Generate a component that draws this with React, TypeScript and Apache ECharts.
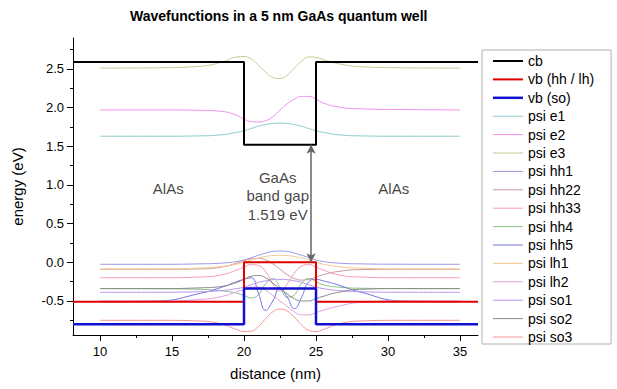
import { useEffect, useRef } from 'react';
import * as echarts from 'echarts';

// distance samples (nm) for wavefunctions
const xs = [10, 14, 17, 18.5, 19.5, 20, 20.5, 21, 21.5, 22, 22.5, 23, 23.5, 24, 24.5, 25, 25.5, 26.5, 28, 31, 35];

const psiE1 = [1.63, 1.63, 1.635, 1.65, 1.68, 1.70, 1.73, 1.76, 1.78, 1.795, 1.80, 1.795, 1.78, 1.76, 1.73, 1.70, 1.68, 1.65, 1.635, 1.63, 1.63];
const psiE2 = [1.97, 1.97, 1.965, 1.95, 1.90, 1.85, 1.82, 1.815, 1.83, 1.88, 1.97, 2.05, 2.11, 2.145, 2.145, 2.11, 2.06, 2.01, 1.985, 1.975, 1.97];
const psiE3 = [2.51, 2.515, 2.535, 2.59, 2.655, 2.66, 2.63, 2.55, 2.46, 2.39, 2.375, 2.42, 2.51, 2.60, 2.655, 2.65, 2.62, 2.57, 2.53, 2.515, 2.51];
const psiHh1 = [-0.026, -0.026, -0.02, -0.01, 0.01, 0.03, 0.06, 0.09, 0.12, 0.14, 0.146, 0.14, 0.12, 0.09, 0.06, 0.03, 0.01, -0.01, -0.02, -0.025, -0.026];
const psiHh22 = [-0.09, -0.09, -0.085, -0.06, -0.01, 0.02, 0.045, 0.05, 0.03, -0.02, -0.09, -0.16, -0.21, -0.23, -0.22, -0.19, -0.16, -0.12, -0.095, -0.09, -0.09];
const psiHh33 = [-0.2, -0.2, -0.19, -0.16, -0.1, -0.06, -0.03, -0.04, -0.12, -0.28, -0.37, -0.28, -0.14, -0.05, -0.03, -0.06, -0.1, -0.16, -0.19, -0.2, -0.2];
const psiHh4 = [-0.34, -0.342, -0.35, -0.37, -0.40, -0.43, -0.46, -0.42, -0.28, -0.21, -0.32, -0.45, -0.42, -0.27, -0.21, -0.25, -0.29, -0.32, -0.335, -0.34, -0.34];
const psiHh5 = [-0.51, -0.50, -0.40, -0.32, -0.25, -0.22, -0.2, -0.4, -0.62, -0.5, -0.33, -0.45, -0.6, -0.45, -0.25, -0.22, -0.24, -0.29, -0.38, -0.5, -0.51];
const psiLh1 = [-0.087, -0.086, -0.075, -0.055, -0.025, 0.0, 0.03, 0.055, 0.075, 0.087, 0.09, 0.087, 0.075, 0.055, 0.03, 0.0, -0.025, -0.055, -0.075, -0.086, -0.087];
const psiLh2 = [-0.5, -0.5, -0.48, -0.44, -0.38, -0.35, -0.32, -0.32, -0.36, -0.43, -0.5, -0.57, -0.64, -0.68, -0.68, -0.65, -0.62, -0.57, -0.52, -0.5, -0.5];
const psiSo1 = [-0.388, -0.387, -0.38, -0.365, -0.34, -0.32, -0.29, -0.26, -0.24, -0.225, -0.22, -0.225, -0.24, -0.26, -0.29, -0.32, -0.34, -0.365, -0.38, -0.387, -0.388];
const psiSo2 = [-0.34, -0.34, -0.33, -0.31, -0.26, -0.22, -0.18, -0.17, -0.2, -0.27, -0.34, -0.41, -0.47, -0.5, -0.5, -0.47, -0.44, -0.39, -0.35, -0.34, -0.34];
const psiSo3 = [-0.75, -0.75, -0.76, -0.8, -0.87, -0.895, -0.89, -0.83, -0.73, -0.64, -0.605, -0.63, -0.71, -0.81, -0.88, -0.895, -0.87, -0.8, -0.76, -0.75, -0.75];

// band edges
const bandX = [8.125, 20, 20, 25, 25, 36.25];
const cbE = [2.59, 2.59, 1.519, 1.519, 2.59, 2.59];
const vbHhE = [-0.51, -0.51, 0, 0, -0.51, -0.51];
const vbSoE = [-0.8, -0.8, -0.34, -0.34, -0.8, -0.8];

// ticks
const xMajorTicks = [10, 15, 20, 25, 30, 35];
const xMinorTicks = [12.5, 17.5, 22.5, 27.5, 32.5];
const yMajorTicks = [-0.5, 0, 0.5, 1, 1.5, 2, 2.5];
const yMinorTicks = [-0.75, -0.25, 0.25, 0.75, 1.25, 1.75, 2.25, 2.75];

// annotations
const gapArrowX = 24.66;
const gapBottom = 0;
const gapTop = 1.519;
const annotations: [number, number, string][] = [
  [14.74, 0.956, 'AlAs'],
  [30.4, 0.956, 'AlAs'],
  [22.34, 0.86, 'GaAs\nband gap\n1.519 eV'],
];

const bandSeries = [
  { name: 'cb', y: cbE, color: '#000000', width: 2 },
  { name: 'vb (hh / lh)', y: vbHhE, color: '#e00000', width: 2 },
  { name: 'vb (so)', y: vbSoE, color: '#1010d0', width: 2.5 },
];

const psiSeries = [
  { name: 'psi e1', y: psiE1, color: '#8ccaca' },
  { name: 'psi e2', y: psiE2, color: '#f08ef0' },
  { name: 'psi e3', y: psiE3, color: '#c8c896' },
  { name: 'psi hh1', y: psiHh1, color: '#9898e0' },
  { name: 'psi hh22', y: psiHh22, color: '#c8989e' },
  { name: 'psi hh33', y: psiHh33, color: '#f598c6' },
  { name: 'psi hh4', y: psiHh4, color: '#88c088' },
  { name: 'psi hh5', y: psiHh5, color: '#7474e0' },
  { name: 'psi lh1', y: psiLh1, color: '#f5c88a' },
  { name: 'psi lh2', y: psiLh2, color: '#e0a0e0' },
  { name: 'psi so1', y: psiSo1, color: '#b894f0' },
  { name: 'psi so2', y: psiSo2, color: '#8a8a8a' },
  { name: 'psi so3', y: psiSo3, color: '#f59494' },
];

const FONT = '"Liberation Sans", Arial, sans-serif';

export default function App() {
  const ref = useRef<HTMLDivElement>(null);
  useEffect(() => {
    document.body.style.margin = '0';
    if (!ref.current) return;
    const chart = echarts.init(ref.current, undefined, { renderer: 'svg' });
    const axisColor = '#000';
    const series: any[] = [];
    psiSeries.forEach((s) => {
      series.push({
        name: s.name,
        type: 'line',
        data: xs.map((x, i) => [x, s.y[i]]),
        smooth: 0.5,
        symbol: 'none',
        z: 2,
        lineStyle: { color: s.color, width: 1 },
        itemStyle: { color: s.color, opacity: 0 },
      });
    });
    bandSeries.forEach((s) => {
      series.push({
        name: s.name,
        type: 'line',
        data: bandX.map((x, i) => [x, s.y[i]]),
        symbol: 'none',
        z: 4,
        lineStyle: { color: s.color, width: s.width },
        itemStyle: { color: s.color, opacity: 0 },
      });
    });
    series.push({
      name: 'gap',
      type: 'line',
      data: [],
      z: 5,
      markLine: {
        silent: true,
        symbol: ['arrow', 'arrow'],
        symbolSize: [7, 9],
        label: { show: false },
        lineStyle: { color: '#666', width: 1.5, type: 'solid' },
        data: [[{ coord: [gapArrowX, gapBottom] }, { coord: [gapArrowX, gapTop] }]],
      },
    });
    series.push({
      name: 'labels',
      type: 'scatter',
      data: annotations,
      symbolSize: 0,
      z: 6,
      label: {
        show: true,
        position: 'inside',
        formatter: (p: any) => p.data[2],
        fontSize: 15,
        lineHeight: 18.3,
        color: '#111',
        fontFamily: FONT,
        align: 'center',
      },
    });

    chart.setOption({
      animation: false,
      backgroundColor: '#fff',
      textStyle: { fontFamily: FONT },
      title: {
        text: 'Wavefunctions in a 5 nm GaAs quantum well',
        left: 130,
        top: 9,
        padding: 0,
        textStyle: { fontSize: 14, fontWeight: 'bold', color: '#000', fontFamily: FONT },
      },
      legend: {
        data: [
          ...bandSeries.map((s) => ({ name: s.name, lineStyle: { width: s.width } })),
          ...psiSeries.map((s) => ({ name: s.name, lineStyle: { width: 1 } })),
        ],
        orient: 'vertical',
        left: 482,
        top: 50,
        itemWidth: 30,
        itemHeight: 14,
        itemGap: 4.4,
        padding: [4, 17, 0, 9.7],
        borderColor: '#b0b0b0',
        borderWidth: 1,
        itemStyle: { opacity: 0 },
        textStyle: { fontSize: 14, color: '#000', fontFamily: FONT },
      },
      grid: { left: 73, top: 38, width: 405, height: 297 },
      xAxis: [
        {
          type: 'value',
          min: 8.125,
          max: 36.25,
          position: 'bottom',
          axisLine: { show: true, onZero: false, lineStyle: { color: axisColor, width: 1 } },
          axisTick: { show: true, length: 6, customValues: xMajorTicks, lineStyle: { color: axisColor } },
          axisLabel: { customValues: xMajorTicks, fontSize: 13, color: '#000', margin: 10, fontFamily: FONT },
          splitLine: { show: false },
          name: 'distance (nm)',
          nameLocation: 'middle',
          nameGap: 31,
          nameTextStyle: { fontSize: 15, color: '#000', fontFamily: FONT },
        },
        {
          type: 'value',
          min: 8.125,
          max: 36.25,
          position: 'bottom',
          axisLine: { show: false, onZero: false },
          axisTick: { show: true, length: 3, customValues: xMinorTicks, lineStyle: { color: axisColor } },
          axisLabel: { show: false },
          splitLine: { show: false },
        },
      ],
      yAxis: [
        {
          type: 'value',
          min: -0.94,
          max: 2.9,
          position: 'left',
          axisLine: { show: true, onZero: false, lineStyle: { color: axisColor, width: 1 } },
          axisTick: { show: true, length: 6, customValues: yMajorTicks, lineStyle: { color: axisColor } },
          axisLabel: {
            customValues: yMajorTicks,
            fontSize: 13,
            color: '#000',
            margin: 9,
            fontFamily: FONT,
            formatter: (v: number) => v.toFixed(1),
          },
          splitLine: { show: false },
          name: 'energy (eV)',
          nameLocation: 'middle',
          nameGap: 48,
          nameTextStyle: { fontSize: 15, color: '#000', fontFamily: FONT },
        },
        {
          type: 'value',
          min: -0.94,
          max: 2.9,
          position: 'left',
          axisLine: { show: false, onZero: false },
          axisTick: { show: true, length: 3, customValues: yMinorTicks, lineStyle: { color: axisColor } },
          axisLabel: { show: false },
          splitLine: { show: false },
        },
      ],
      series,
    });
    return () => chart.dispose();
  }, []);
  return <div ref={ref} style={{ width: 617, height: 389 }} />;
}
